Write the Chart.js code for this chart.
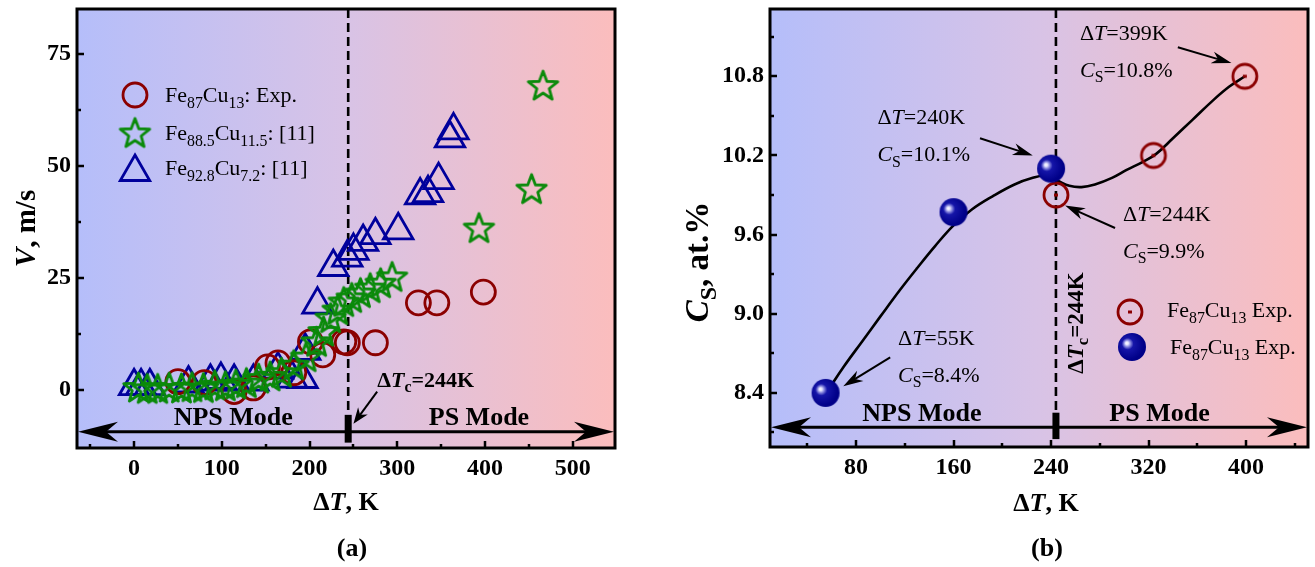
<!DOCTYPE html>
<html>
<head>
<meta charset="utf-8">
<script src="https://cdn.jsdelivr.net/npm/chart.js@4/dist/chart.umd.min.js"></script>
<style>
  html, body { margin: 0; padding: 0; background: #fff; }
  #wrap { position: relative; width: 1315px; height: 567px; overflow: hidden; }
  #ca { position: absolute; left: 0; top: 0; }
  #cb { position: absolute; left: 657px; top: 0; }
</style>
</head>
<body>
<div id="wrap">
  <canvas id="ca" width="657" height="567"></canvas>
  <canvas id="cb" width="658" height="567"></canvas>
</div>
<script>
// ---------------- Panel (a): growth velocity V vs undercooling ΔT ----------------
const fe87_dT = [50, 80, 114, 136, 152, 164, 182, 201, 215, 239, 243, 275, 324, 345, 398];
const fe87_V  = [1.8, 1.6, -0.4, 0.4, 5.1, 6.0, 3.8, 10.7, 7.8, 10.7, 10.5, 10.5, 19.4, 19.4, 21.8];

const fe885_dT = [5, 15, 27, 40, 54, 66, 79, 92, 104, 116, 128, 142, 155, 168, 182, 196, 208, 216, 224, 232, 239, 248, 258, 269, 281, 294, 393, 453, 466];
const fe885_V  = [0.5, 0.2, 0.2, 0.5, 0.3, 0.6, 0.4, 1.0, 0.8, 1.2, 1.5, 2.5, 3.0, 3.8, 5.5, 7.3, 10.7, 13.0, 16.0, 17.8, 19.6, 20.5, 21.6, 22.7, 23.8, 25.2, 36.1, 44.8, 67.9];

const fe928_dT = [0, 8, 18, 62, 87, 99, 114, 136, 164, 180, 192, 195, 209, 227, 243, 250, 261, 275, 301, 326, 335, 347, 360, 364];
const fe928_V  = [0.8, 0.8, 0.8, 1.4, 1.8, 2.2, 1.8, 1.8, 4.5, 2.5, 2.4, 8.7, 19.0, 27.4, 29.5, 31.0, 33.0, 34.5, 35.6, 43.4, 43.9, 46.8, 56.1, 57.9];

const aXTicks = [0, 100, 200, 300, 400, 500];
const aXMinor = [-50, 50, 150, 250, 350, 450];
const aYTicks = [0, 25, 50, 75];
const aYMinor = [12.5, 37.5, 62.5];

// ---------------- Panel (b): solute content C_S vs undercooling ΔT ----------------
const sphere_dT = [55, 160, 240];
const sphere_Cs = [8.4, 9.77, 10.1];
const ring_dT = [244, 324, 399];
const ring_Cs = [9.9, 10.2, 10.8];
const fit_dT = [57, 70, 85, 100, 116, 130, 145, 160, 175, 192, 210, 225, 235, 245, 255, 265, 276, 290, 302, 315, 326, 340, 356, 372, 386, 399];
const fit_Cs = [8.42, 8.6, 8.79, 8.98, 9.18, 9.345, 9.515, 9.67, 9.79, 9.89, 9.98, 10.03, 10.045, 10.01, 9.97, 9.96, 9.98, 10.03, 10.09, 10.15, 10.21, 10.33, 10.47, 10.61, 10.72, 10.8];

const bXTicks = [80, 160, 240, 320, 400];
const bXMinor = [40, 120, 200, 280, 360, 440];
const bYTicks = [8.4, 9.0, 9.6, 10.2, 10.8];
const bYMinor = [8.1, 8.7, 9.3, 9.9, 10.5, 11.1];

const criticalDT = 244;

// ---------------- drawing helpers ----------------
const FONT = "'Liberation Serif','Times New Roman',serif";
const RED = '#8b0000', GREEN = '#0a8a0a', BLUE = '#00009c';
const SUB = 0.72;

function fontStr(size, bold, italic) {
  return (italic ? 'italic ' : '') + (bold ? 'bold ' : '') + size + 'px ' + FONT;
}
// segments: [text, flags] with flags b = bold, i = italic, s = subscript
function richWidth(ctx, segs, size) {
  let w = 0;
  for (const [t, f = ''] of segs) {
    const sub = f.includes('s');
    ctx.font = fontStr(sub ? size * SUB : size, f.includes('b'), f.includes('i'));
    w += ctx.measureText(t).width;
  }
  return w;
}
function drawRich(ctx, segs, x, y, size, align = 'left') {
  const w = richWidth(ctx, segs, size);
  let cx = align === 'center' ? x - w / 2 : align === 'right' ? x - w : x;
  ctx.textAlign = 'left';
  ctx.textBaseline = 'alphabetic';
  ctx.fillStyle = '#000';
  const base = y + size * 0.33;
  for (const [t, f = ''] of segs) {
    const sub = f.includes('s');
    ctx.font = fontStr(sub ? size * SUB : size, f.includes('b'), f.includes('i'));
    ctx.fillText(t, cx, base + (sub ? size * 0.24 : 0));
    cx += ctx.measureText(t).width;
  }
}
function drawRichRotated(ctx, segs, cx, cy, size) {
  ctx.save();
  ctx.translate(cx, cy);
  ctx.rotate(-Math.PI / 2);
  drawRich(ctx, segs, 0, 0, size, 'center');
  ctx.restore();
}
function arrowHead(ctx, x1, y1, x2, y2, L, W) {
  const dx = x2 - x1, dy = y2 - y1, len = Math.hypot(dx, dy);
  const ux = dx / len, uy = dy / len, nx = -uy, ny = ux;
  ctx.beginPath();
  ctx.moveTo(x2, y2);
  ctx.lineTo(x2 - ux * L + nx * W, y2 - uy * L + ny * W);
  ctx.lineTo(x2 - ux * L * 0.7, y2 - uy * L * 0.7);
  ctx.lineTo(x2 - ux * L - nx * W, y2 - uy * L - ny * W);
  ctx.closePath();
  ctx.fill();
}
function arrow(ctx, x1, y1, x2, y2, L = 18, W = 6, lw = 2) {
  const len = Math.hypot(x2 - x1, y2 - y1);
  const ux = (x2 - x1) / len, uy = (y2 - y1) / len;
  ctx.save();
  ctx.strokeStyle = '#000'; ctx.fillStyle = '#000'; ctx.lineWidth = lw;
  ctx.beginPath();
  ctx.moveTo(x1, y1);
  ctx.lineTo(x2 - ux * L * 0.7, y2 - uy * L * 0.7);
  ctx.stroke();
  arrowHead(ctx, x1, y1, x2, y2, L, W);
  ctx.restore();
}

// five-pointed outline star used as a point style
function makeStar(r, color, lw) {
  const size = Math.ceil(2 * r + lw * 2 + 4);
  const c = document.createElement('canvas');
  c.width = c.height = size;
  const g = c.getContext('2d');
  const cx = size / 2, cy = size / 2 + 1, ri = r * 0.42;
  g.beginPath();
  for (let i = 0; i < 10; i++) {
    const a = -Math.PI / 2 + i * Math.PI / 5;
    const rr = i % 2 ? ri : r;
    g.lineTo(cx + rr * Math.cos(a), cy + rr * Math.sin(a));
  }
  g.closePath();
  g.lineJoin = 'round';
  g.lineWidth = lw;
  g.strokeStyle = color;
  g.stroke();
  return c;
}
// shaded blue sphere
function makeSphere(r) {
  const size = Math.ceil(2 * r + 2);
  const c = document.createElement('canvas');
  c.width = c.height = size;
  const g = c.getContext('2d');
  const cx = size / 2, cy = size / 2;
  const grad = g.createRadialGradient(cx - r * 0.38, cy - r * 0.28, 0, cx - r * 0.2, cy - r * 0.15, r * 1.05);
  grad.addColorStop(0, '#ffffff');
  grad.addColorStop(0.1, '#e6e6ff');
  grad.addColorStop(0.22, '#8c8ce0');
  grad.addColorStop(0.4, '#1515a8');
  grad.addColorStop(1, '#000088');
  g.fillStyle = grad;
  g.beginPath(); g.arc(cx, cy, r, 0, Math.PI * 2); g.fill();
  return c;
}
// open ring with a centre dot
function makeRing(r, color, lw) {
  const size = Math.ceil(2 * r + lw * 2 + 2);
  const c = document.createElement('canvas');
  c.width = c.height = size;
  const g = c.getContext('2d');
  const cx = size / 2, cy = size / 2;
  g.strokeStyle = color; g.lineWidth = lw;
  g.beginPath(); g.arc(cx, cy, r, 0, Math.PI * 2); g.stroke();
  g.fillStyle = color;
  g.fillRect(cx - 2, cy - 1.5, 4, 3);
  return c;
}

const starImg = makeStar(15.5, GREEN, 2.8);
const sphereImg = makeSphere(14);
const ringImg = makeRing(12, RED, 2.8);

function paintBackground(chart) {
  const { ctx, chartArea: a } = chart;
  const g = ctx.createLinearGradient(a.left, 0, a.right, 0);
  g.addColorStop(0, '#b5befa');
  g.addColorStop(0.5, '#d8c3e6');
  g.addColorStop(1, '#fbbdbd');
  ctx.save();
  ctx.fillStyle = g;
  ctx.fillRect(a.left, a.top, a.right - a.left, a.bottom - a.top);
  ctx.restore();
}
function paintFrameAndTicks(chart, xMaj, xMin, yMaj, yMin) {
  const { ctx, chartArea: a, scales: { x, y } } = chart;
  ctx.save();
  ctx.strokeStyle = '#000';
  ctx.lineWidth = 2.5;
  ctx.beginPath();
  const tick = (vals, len, isX) => {
    for (const v of vals) {
      if (isX) {
        const p = Math.round(x.getPixelForValue(v));
        ctx.moveTo(p, a.bottom); ctx.lineTo(p, a.bottom - len);
      } else {
        const p = Math.round(y.getPixelForValue(v));
        ctx.moveTo(a.left, p); ctx.lineTo(a.left + len, p);
      }
    }
  };
  tick(xMaj, 7, true); tick(xMin, 4, true);
  tick(yMaj, 7, false); tick(yMin, 4, false);
  ctx.stroke();
  ctx.lineWidth = 3;
  ctx.strokeRect(a.left, a.top, a.right - a.left, a.bottom - a.top);
  ctx.restore();
}
// dashed critical line, double-headed mode arrow and block marker
function paintModes(chart, o) {
  const { ctx, chartArea: a, scales: { x, y } } = chart;
  const xc = x.getPixelForValue(criticalDT);
  const yArrow = y.getPixelForValue(o.arrowY);
  const yTop = y.getPixelForValue(o.blockTop);
  const yBot = y.getPixelForValue(o.blockBottom);
  ctx.save();
  ctx.strokeStyle = '#000';
  ctx.lineWidth = 2.6;
  ctx.setLineDash([9, 5]);
  ctx.beginPath(); ctx.moveTo(xc, a.top); ctx.lineTo(xc, yTop); ctx.stroke();
  ctx.setLineDash([]);
  ctx.lineWidth = 3;
  ctx.beginPath(); ctx.moveTo(a.left + 20, yArrow); ctx.lineTo(a.right - 20, yArrow); ctx.stroke();
  ctx.fillStyle = '#000';
  arrowHead(ctx, a.left + 60, yArrow, a.left + 1, yArrow, 40, 10);
  arrowHead(ctx, a.right - 60, yArrow, a.right - 1, yArrow, 40, 10);
  ctx.fillRect(xc - 3.5, yTop, 7, yBot - yTop);
  ctx.restore();
  drawRich(ctx, [['NPS Mode', 'b']], x.getPixelForValue(o.npsX), y.getPixelForValue(o.textY), 26, 'center');
  drawRich(ctx, [['PS Mode', 'b']], x.getPixelForValue(o.psX), y.getPixelForValue(o.textY), 26, 'center');
}

function linScale(min, max, ticks, size, isX, fmt) {
  return {
    type: 'linear', min, max,
    afterBuildTicks: s => { s.ticks = ticks.map(v => ({ value: v })); },
    afterFit: s => {
      if (isX) s.height = size; else s.width = size;
      s.paddingTop = s.paddingBottom = s.paddingLeft = s.paddingRight = 0;
    },
    grid: { display: false, drawTicks: false },
    border: { display: false },
    ticks: {
      font: { family: FONT, size: 24, weight: 'bold', lineHeight: isX ? 1.2 : 0.4 },
      color: '#000', padding: 6, callback: fmt || (v => String(v))
    }
  };
}
const common = {
  responsive: false,
  animation: false,
  events: [],
  plugins: { legend: { display: false }, tooltip: { enabled: false } }
};

// ---------------- Panel (a) ----------------
const panelAPlugin = {
  id: 'panelA',
  beforeDraw: paintBackground,
  beforeDatasetsDraw(chart) {
    paintModes(chart, { arrowY: -9.4, blockTop: -5.6, blockBottom: -11.8, npsX: 113, psX: 393, textY: -6.0 });
  },
  afterDraw(chart) {
    const { ctx, chartArea: a, scales: { x, y } } = chart;
    paintFrameAndTicks(chart, aXTicks, aXMinor, aYTicks, aYMinor);
    // critical undercooling callout
    drawRich(ctx, [['Δ', 'b'], ['T', 'bi'], ['c', 'bs'], ['=244K', 'b']], x.getPixelForValue(277), y.getPixelForValue(2.2), 22);
    arrow(ctx, x.getPixelForValue(277), y.getPixelForValue(-0.4), x.getPixelForValue(250), y.getPixelForValue(-7.6), 16, 6, 2);
    // legend
    const lx = 135, tx = 165;
    const rows = [
      { y: 95, segs: [['Fe'], ['87', 's'], ['Cu'], ['13', 's'], [': Exp.']] },
      { y: 133, segs: [['Fe'], ['88.5', 's'], ['Cu'], ['11.5', 's'], [': [11]']] },
      { y: 168, segs: [['Fe'], ['92.8', 's'], ['Cu'], ['7.2', 's'], [': [11]']] }
    ];
    ctx.save();
    ctx.fillStyle = 'rgba(0,0,0,0)';
    ctx.lineWidth = 2.8;
    ctx.strokeStyle = RED;
    Chart.helpers.drawPoint(ctx, { pointStyle: 'circle', radius: 12, borderWidth: 2.8, rotation: 0 }, lx, rows[0].y);
    ctx.drawImage(starImg, lx - starImg.width / 2, rows[1].y - starImg.height / 2);
    ctx.strokeStyle = BLUE;
    ctx.fillStyle = 'rgba(0,0,0,0)';
    Chart.helpers.drawPoint(ctx, { pointStyle: 'triangle', radius: 17, borderWidth: 2.8, rotation: 0 }, lx, rows[2].y + 4);
    ctx.restore();
    for (const r of rows) drawRich(ctx, r.segs, tx, r.y, 22);
    // axis titles and panel tag
    const cx = (a.left + a.right) / 2;
    drawRich(ctx, [['Δ', 'b'], ['T', 'bi'], [', K', 'b']], cx, 501, 26, 'center');
    drawRich(ctx, [['(a)', 'b']], 352, 547, 26, 'center');
    drawRichRotated(ctx, [['V', 'bi'], [', m/s', 'b']], 25, (a.top + a.bottom) / 2, 29);
  }
};

new Chart(document.getElementById('ca'), {
  type: 'scatter',
  data: {
    datasets: [
      { label: 'Fe88.5Cu11.5: [11]', order: 0, data: fe885_dT.map((v, i) => ({ x: v, y: fe885_V[i] })),
        pointStyle: starImg, pointRadius: 15, borderColor: GREEN },
      { label: 'Fe87Cu13: Exp.', order: 1, data: fe87_dT.map((v, i) => ({ x: v, y: fe87_V[i] })),
        pointStyle: 'circle', pointRadius: 12, borderWidth: 2.8, borderColor: RED, backgroundColor: 'transparent' },
      { label: 'Fe92.8Cu7.2: [11]', order: 2, data: fe928_dT.map((v, i) => ({ x: v, y: fe928_V[i] })),
        pointStyle: 'triangle', pointRadius: 17, borderWidth: 2.8, borderColor: BLUE, backgroundColor: 'transparent' }
    ]
  },
  options: Object.assign({}, common, {
    layout: { autoPadding: false, padding: { left: 0, right: 42, top: 9, bottom: 0 } },
    scales: {
      x: linScale(-65, 548, aXTicks, 119, true),
      y: linScale(-13, 85, aYTicks, 77, false)
    }
  }),
  plugins: [panelAPlugin]
});

// ---------------- Panel (b) ----------------
function note(ctx, x, y, dT, cs, px, py) {
  drawRich(ctx, [['Δ'], ['T', 'i'], ['=' + dT + 'K']], x.getPixelForValue(px), y.getPixelForValue(py), 22);
  drawRich(ctx, [['C', 'i'], ['S', 's'], ['=' + cs + '%']], x.getPixelForValue(px), y.getPixelForValue(py) + 37, 22);
}
const panelBPlugin = {
  id: 'panelB',
  beforeDraw: paintBackground,
  beforeDatasetsDraw(chart) {
    paintModes(chart, { arrowY: 8.14, blockTop: 8.25, blockBottom: 8.05, npsX: 134, psX: 329, textY: 8.255 });
  },
  afterDraw(chart) {
    const { ctx, chartArea: a, scales: { x, y } } = chart;
    paintFrameAndTicks(chart, bXTicks, bXMinor, bYTicks, bYMinor);
    const X = v => x.getPixelForValue(v), Y = v => y.getPixelForValue(v);
    // value callouts
    note(ctx, x, y, 240, '10.1', 97.5, 10.49);
    arrow(ctx, X(181.7), Y(10.33), X(225), Y(10.2), 20, 6, 2);
    note(ctx, x, y, 399, '10.8', 263.7, 11.13);
    arrow(ctx, X(344), Y(11.02), X(388), Y(10.9), 20, 6, 2);
    note(ctx, x, y, 244, '9.9', 299, 9.76);
    arrow(ctx, X(292.5), Y(9.65), X(251.5), Y(9.82), 20, 6, 2);
    note(ctx, x, y, 55, '8.4', 114.4, 8.82);
    arrow(ctx, X(108), Y(8.67), X(69.5), Y(8.45), 20, 6, 2);
    // vertical critical label
    drawRichRotated(ctx, [['Δ', 'b'], ['T', 'bi'], ['c', 'bs'], ['=244K', 'b']], X(259.6), Y(8.93), 23);
    // legend
    const lx0 = 1130 - 657, lx1 = 1132 - 657;
    ctx.drawImage(ringImg, lx0 - ringImg.width / 2, 312 - ringImg.height / 2);
    ctx.drawImage(sphereImg, lx1 - sphereImg.width / 2, 347 - sphereImg.height / 2);
    drawRich(ctx, [['Fe'], ['87', 's'], ['Cu'], ['13', 's'], [' Exp.']], 1167 - 657, 310, 22);
    drawRich(ctx, [['Fe'], ['87', 's'], ['Cu'], ['13', 's'], [' Exp.']], 1170 - 657, 347, 22);
    // axis titles and panel tag
    drawRich(ctx, [['Δ', 'b'], ['T', 'bi'], [', K', 'b']], 1046 - 657, 502, 26, 'center');
    drawRich(ctx, [['(b)', 'b']], 1047 - 657, 547, 26, 'center');
    drawRichRotated(ctx, [['C', 'bi'], ['S', 'bs'], [', at.%', 'b']], 697 - 657, 262, 33);
  }
};

new Chart(document.getElementById('cb'), {
  type: 'scatter',
  data: {
    datasets: [
      { label: 'Fe87Cu13 Exp. (sphere)', order: 0, data: sphere_dT.map((v, i) => ({ x: v, y: sphere_Cs[i] })),
        pointStyle: sphereImg, pointRadius: 14 },
      { label: 'Fe87Cu13 Exp. (ring)', order: 1, data: ring_dT.map((v, i) => ({ x: v, y: ring_Cs[i] })),
        pointStyle: ringImg, pointRadius: 12 },
      { label: 'fit', order: 2, type: 'line', data: fit_dT.map((v, i) => ({ x: v, y: fit_Cs[i] })),
        showLine: true, borderColor: '#000', borderWidth: 2.6, pointRadius: 0, tension: 0.4, fill: false }
    ]
  },
  options: Object.assign({}, common, {
    layout: { autoPadding: false, padding: { left: 0, right: 7, top: 9, bottom: 0 } },
    scales: {
      x: linScale(9.4, 450.8, bXTicks, 120, true),
      y: linScale(7.99, 11.31, bYTicks, 113, false, v => v.toFixed(1))
    }
  }),
  plugins: [panelBPlugin]
});
</script>
</body>
</html>
